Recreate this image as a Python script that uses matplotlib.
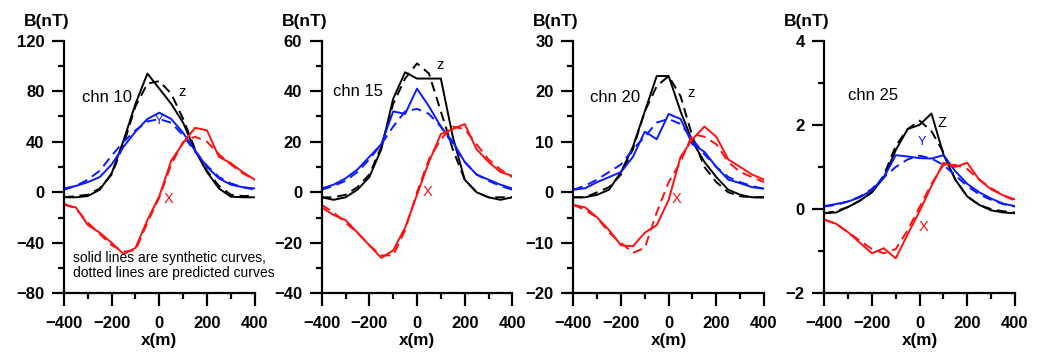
import matplotlib
matplotlib.use("Agg")
import matplotlib.pyplot as plt
from matplotlib.ticker import MultipleLocator

plt.rcParams['font.family'] = ['Liberation Sans', 'DejaVu Sans']

# profile positions (m)
x_m = [-400, -350, -300, -250, -200, -150, -100, -50, 0, 50, 100, 150, 200, 250, 300, 350, 400]

# chn 10
z_syn_10 = [-4, -4, -3, 2, 15, 41, 70, 94, 82, 70, 55, 33, 16, 3, -3.5, -4, -4]
z_pre_10 = [-4, -3, -2, 3, 14, 38, 68, 86, 88, 78, 58, 34, 17, 5, -2, -3, -3]
y_syn_10 = [3, 5, 8, 12, 22, 36, 48, 58, 63, 58, 47, 33, 20, 11, 6, 4, 3]
y_pre_10 = [2, 5, 10, 17, 29, 40, 49, 56, 58, 55, 45, 32, 21, 12, 7, 4, 2]
x_syn_10 = [-10, -12, -26, -32, -40, -49, -44, -22, -3, 25, 39, 51, 49, 28, 23, 16, 10]
x_pre_10 = [-9, -13, -24, -33, -42, -47, -46, -24, -4, 22, 40, 44, 40, 30, 22, 15, 10]

# chn 15
z_syn_15 = [-2, -3, -2, 1, 6, 17, 37, 47.5, 45, 45, 45, 22, 5, 0, -2, -3, -2]
z_pre_15 = [-2, -2, -1, 2, 7, 18, 35, 45, 51, 47, 32, 17, 5, 0, -2, -2, -2]
y_syn_15 = [1.5, 3, 5.5, 9, 14, 19, 32, 31, 41, 34, 26, 20, 12, 7, 5, 3, 1.5]
y_pre_15 = [1, 2.5, 4.5, 8, 13, 19, 26, 32, 33, 31, 26, 19, 12, 7, 4.5, 2.5, 1]
x_syn_15 = [-6, -9, -11, -16, -21, -26, -23, -14, -1, 12, 23, 25, 27, 17, 12, 8, 6.5]
x_pre_15 = [-5, -8, -12, -16, -21, -25, -25, -15, 0, 13, 21, 26, 25, 19, 13, 9, 6]

# chn 20
z_syn_20 = [-1, -1, -0.5, 0.5, 4, 9, 16, 23, 23, 16, 10, 6, 3, 0.5, -0.5, -1, -1]
z_pre_20 = [-1, -1, 0, 1, 3.5, 8.5, 16, 21, 23, 19, 11, 5, 2, 0, -0.8, -1, -1]
y_syn_20 = [0.5, 0.8, 2, 3, 4, 7, 12, 10.5, 15.5, 14.5, 9.5, 8, 5, 2.5, 1.8, 1, 0.7]
y_pre_20 = [0.5, 1.3, 2.5, 4, 5.5, 8.5, 11, 13.8, 14.5, 13.5, 10.5, 7.5, 5, 3, 2, 1.2, 0.7]
x_syn_20 = [-2.5, -3, -5, -7.5, -10.5, -10.7, -8, -6.5, -1.5, 7, 10.5, 13, 11, 6.5, 5, 3.5, 2.5]
x_pre_20 = [-2.5, -3.5, -5, -8, -10, -12, -11, -4, 2, 6, 11.5, 11, 9.5, 6, 4, 3, 2]

# chn 25
z_syn_25 = [-0.1, -0.08, 0.05, 0.2, 0.4, 0.75, 1.4, 1.9, 2.0, 2.27, 1.3, 0.7, 0.3, 0.1, -0.03, -0.08, -0.1]
z_pre_25 = [-0.1, -0.05, 0.05, 0.2, 0.4, 0.8, 1.5, 1.9, 2.1, 1.85, 1.35, 0.7, 0.3, 0.1, 0, -0.05, -0.08]
y_syn_25 = [0.07, 0.12, 0.18, 0.28, 0.45, 0.75, 1.28, 1.25, 1.21, 1.2, 1.28, 0.9, 0.6, 0.4, 0.25, 0.13, 0.07]
y_pre_25 = [0.06, 0.1, 0.18, 0.3, 0.48, 0.75, 1.0, 1.18, 1.27, 1.2, 1.05, 0.8, 0.55, 0.35, 0.22, 0.12, 0.06]
x_syn_25 = [-0.25, -0.35, -0.55, -0.8, -1.05, -0.93, -1.17, -0.6, -0.05, 0.55, 1.1, 1.0, 1.1, 0.7, 0.47, 0.33, 0.23]
x_pre_25 = [-0.25, -0.35, -0.55, -0.75, -0.95, -1.05, -0.95, -0.5, 0.05, 0.6, 1.05, 1.05, 0.95, 0.7, 0.5, 0.33, 0.2]

panels = [
    dict(name='chn 10', z=(z_syn_10, z_pre_10), y=(y_syn_10, y_pre_10), x=(x_syn_10, x_pre_10),
         ylim=(-80, 120), major=40, minor=20, left=0.0614,
         chn=(82, 97), zl=(182, 92), yl=(159, 121), xl=(169, 199)),
    dict(name='chn 15', z=(z_syn_15, z_pre_15), y=(y_syn_15, y_pre_15), x=(x_syn_15, x_pre_15),
         ylim=(-40, 60), major=20, minor=10, left=0.3087,
         chn=(333, 92), zl=(440, 65), yl=None, xl=(428, 192)),
    dict(name='chn 20', z=(z_syn_20, z_pre_20), y=(y_syn_20, y_pre_20), x=(x_syn_20, x_pre_20),
         ylim=(-20, 30), major=10, minor=5, left=0.5502,
         chn=(590, 97), zl=(691, 93), yl=None, xl=(677, 199)),
    dict(name='chn 25', z=(z_syn_25, z_pre_25), y=(y_syn_25, y_pre_25), x=(x_syn_25, x_pre_25),
         ylim=(-2, 4), major=2, minor=1, left=0.791,
         chn=(848, 95), zl=(942, 123), yl=(922, 142), xl=(924, 227)),
]

W, H = 1042, 354
fig = plt.figure(figsize=(W / 100, H / 100), dpi=100)

lw = 1.4
for p in panels:
    ax = fig.add_axes([p['left'], 0.1715, 0.183, 0.7136])
    for (syn, pre), col in zip([p['z'], p['y'], p['x']], ['black', '#0a1aff', '#ff1010']):
        ax.plot(x_m, syn, color=col, lw=lw)
        ax.plot(x_m, pre, color=col, lw=lw, linestyle=(0, (5, 3)))
    ax.set_xlim(-400, 400)
    ax.set_ylim(*p['ylim'])
    ax.xaxis.set_major_locator(MultipleLocator(200))
    ax.xaxis.set_minor_locator(MultipleLocator(100))
    ax.yaxis.set_major_locator(MultipleLocator(p['major']))
    ax.yaxis.set_minor_locator(MultipleLocator(p['minor']))
    for s in ['top', 'right']:
        ax.spines[s].set_visible(False)
    for s in ['left', 'bottom']:
        ax.spines[s].set_linewidth(1.6)
    ax.tick_params(axis='both', which='both', direction='out', width=1.6)
    ax.tick_params(axis='both', which='major', length=9)
    ax.tick_params(axis='x', which='major', pad=7)
    ax.tick_params(axis='y', which='major', pad=5)
    ax.tick_params(axis='both', which='minor', length=4)
    for lab in ax.get_xticklabels() + ax.get_yticklabels():
        lab.set_fontweight('bold')
        lab.set_fontsize(12)
    ax.text(-0.09, 1.074, 'B(nT)', transform=ax.transAxes, fontsize=12.5,
            fontweight='bold', ha='center', va='center')
    ax.text(0.5, -0.185, 'x(m)', transform=ax.transAxes, fontsize=12.3,
            fontweight='bold', ha='center', va='center')

    # curve labels (figure pixel coordinates)
    def put(pos, s, col, size=10.5):
        fig.text(pos[0] / W, 1 - pos[1] / H, s, color=col, fontsize=size,
                 ha='left' if s.startswith('chn') else 'center', va='center')
    put(p['chn'], p['name'], 'black', 12)
    put(p['zl'], 'z' if p['name'] != 'chn 25' else 'Z', 'black')
    if p['yl'] is not None:
        put(p['yl'], 'Y', '#0a1aff', 9)
    put(p['xl'], 'X', '#ff1010')

fig.text(73 / W, 1 - 258 / H, 'solid lines are synthetic curves,', fontsize=10, va='center')
fig.text(73 / W, 1 - 273 / H, 'dotted lines are predicted curves', fontsize=10, va='center')

fig.savefig('out.png', dpi=100)
